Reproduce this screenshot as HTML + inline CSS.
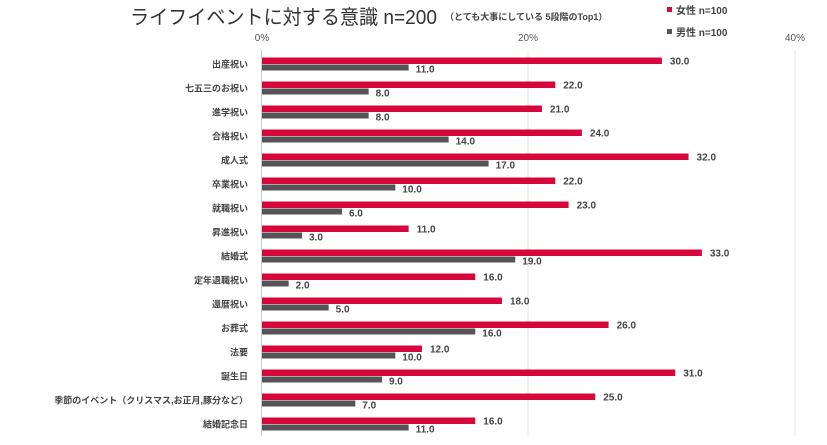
<!DOCTYPE html>
<html><head><meta charset="utf-8"><style>
body{margin:0;background:#fff;}
svg text{font-family:"Liberation Sans","Noto Sans CJK JP",sans-serif;}
</style></head><body>
<svg width="827" height="440" xmlns="http://www.w3.org/2000/svg">
<text x="130" y="24" font-size="20" fill="#333" textLength="307" lengthAdjust="spacingAndGlyphs">ライフイベントに対する意識 n=200</text>
<text x="445" y="20" font-size="9" fill="#444" font-weight="bold">（とても大事にしている 5段階のTop1）</text>
<rect x="667" y="7" width="5" height="5" fill="#d6083b"/>
<text x="676" y="14" font-size="10" fill="#444" font-weight="bold">女性 n=100</text>
<rect x="667" y="29" width="5" height="5" fill="#555"/>
<text x="676" y="36" font-size="10" fill="#444" font-weight="bold">男性 n=100</text>
<g font-size="10" fill="#555" text-anchor="middle">
<text x="262" y="41">0%</text><text x="528" y="41">20%</text><text x="795" y="41">40%</text>
</g>
<line x1="528" y1="50" x2="528" y2="436" stroke="#e4e4e4"/>
<line x1="795" y1="50" x2="795" y2="436" stroke="#e4e4e4"/>
<line x1="261.5" y1="50" x2="261.5" y2="436" stroke="#ccc"/>
<g id="bars" font-size="10" font-weight="bold" fill="#444"></g>
</svg>
<script>
const d=[["出産祝い",30,11],["七五三のお祝い",22,8],["進学祝い",21,8],["合格祝い",24,14],["成人式",32,17],["卒業祝い",22,10],["就職祝い",23,6],["昇進祝い",11,3],["結婚式",33,19],["定年退職祝い",16,2],["還暦祝い",18,5],["お葬式",26,16],["法要",12,10],["誕生日",31,9],["季節のイベント（クリスマス,お正月,豚分など）",25,7],["結婚記念日",16,11]];
const g=document.getElementById('bars');let h='';
d.forEach((r,i)=>{const y=57.5+i*24;const f=r[1]*13.33,m=r[2]*13.33;
h+=`<rect x="262" y="${y}" width="${f}" height="6.5" fill="#d6083b"/>`;
h+=`<rect x="262" y="${y+7}" width="${m}" height="6" fill="#555"/>`;
h+=`<text x="${262+f+8}" y="${y+7}">${r[1].toFixed(1)}</text>`;
h+=`<text x="${262+m+7}" y="${y+15}">${r[2].toFixed(1)}</text>`;
h+=`<text x="248" y="${y+10}" text-anchor="end" font-size="9">${r[0]}</text>`;});
g.innerHTML=h;
</script>
</body></html>
